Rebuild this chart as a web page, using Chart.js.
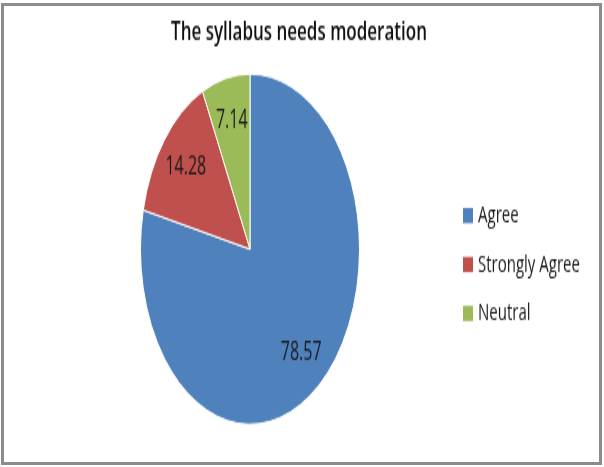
<!DOCTYPE html>
<html>
<head>
<meta charset="utf-8">
<title>The syllabus needs moderation</title>
<script src="https://cdn.jsdelivr.net/npm/chart.js@4.4.0/dist/chart.umd.min.js"></script>
<style>
    html, body { margin: 0; padding: 0; background: #fff; overflow: hidden; }
    /* the original picture is stretched vertically, so the chart is drawn flat and scaled up */
    #wrap { position: absolute; left: 0; top: 0; width: 604px; height: 292px; transform: scaleY(1.6); transform-origin: 0 0; }
    #frame { position: absolute; left: 1px; top: 3px; width: 595px; height: 456px; border: 3px solid #8c8c8c; }
</style>
</head>
<body>
<div id="wrap"><canvas id="pieChart"></canvas></div>
<div id="frame"></div>
<script>
const titleText = "The syllabus needs moderation";
const labels = ["Agree", "Strongly Agree", "Neutral"];
const values = [78.57, 14.28, 7.14];
const colors = ["#4F81BD", "#C0504D", "#9BBB59"];

// texts drawn by hand: title, value labels, legend
const pieText = {
    id: "pieText",
    afterDraw(chart) {
        const ctx = chart.ctx;
        const meta = chart.getDatasetMeta(0);
        ctx.save();

        // title
        ctx.fillStyle = "#111";
        ctx.font = "600 17px 'Open Sans'";
        ctx.textAlign = "center";
        ctx.textBaseline = "alphabetic";
        ctx.fillText(titleText, 299, 24.5);

        // value labels inside slices
        ctx.font = "16px 'Open Sans'";
        ctx.fillStyle = "#1a1a1a";
        ctx.textBaseline = "middle";
        meta.data.forEach(function (arc, i) {
            const p = arc.getProps(["x", "y", "startAngle", "endAngle", "outerRadius"], true);
            const mid = (p.startAngle + p.endAngle) / 2;
            const r = p.outerRadius * 0.75;
            ctx.fillText(String(values[i]), p.x + Math.cos(mid) * r, p.y + Math.sin(mid) * r);
        });

        // legend
        ctx.font = "15px 'Open Sans'";
        ctx.textAlign = "left";
        labels.forEach(function (lab, i) {
            const y = 135 + i * 30.6;
            ctx.fillStyle = colors[i];
            ctx.fillRect(463, y - 5, 10, 9.5);
            ctx.fillStyle = "#1a1a1a";
            ctx.fillText(lab, 478, y);
        });

        ctx.restore();
    }
};

document.addEventListener("DOMContentLoaded", function () {
    const ctx = document.getElementById("pieChart").getContext("2d");
    new Chart(ctx, {
        type: "pie",
        data: {
            labels: labels,
            datasets: [{
                data: values,
                backgroundColor: colors,
                borderColor: "#fff",
                borderWidth: 1
            }]
        },
        options: {
            responsive: true,
            maintainAspectRatio: false,
            animation: false,
            events: [],
            layout: { padding: { left: 140, right: 244, top: 45.5, bottom: 26 } },
            plugins: {
                legend: { display: false },
                tooltip: { enabled: false },
                title: { display: false }
            }
        },
        plugins: [pieText]
    });
});
</script>
</body>
</html>
